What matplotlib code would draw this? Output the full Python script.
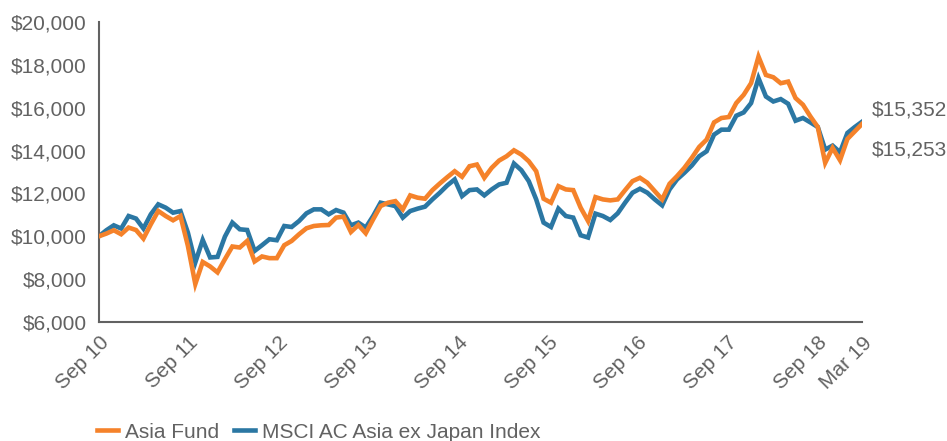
import matplotlib
matplotlib.use("Agg")
import matplotlib.pyplot as plt
import numpy as np
from matplotlib.ticker import FuncFormatter

# ---- data ----
asia_fund = [10000, 10125, 10280, 10093, 10405, 10290, 9890, 10560, 11180, 10945, 10745, 10945, 9550,
             7770, 8800, 8590, 8312, 8930, 9521, 9475, 9781, 8824, 9056, 8977, 8977, 9581, 9781, 10093,
             10372, 10479, 10512, 10525, 10870, 10916, 10200, 10525, 10140, 10790, 11409,
             11567, 11641, 11256, 11907, 11800, 11753, 12153, 12465, 12757, 13036, 12776, 13269, 13348,
             12730, 13195, 13534, 13734, 14013, 13813, 13501, 13036, 11753, 11567, 12339, 12186, 12153,
             11335, 10711, 11827, 11720, 11674, 11720, 12153, 12572, 12730, 12497, 12107, 11720, 12450,
             12804, 13195, 13660, 14171, 14511, 15315, 15520, 15566, 16217, 16603, 17147, 18384, 17530,
             17423, 17144, 17219, 16450, 16140, 15594, 15100, 13427, 14125, 13548, 14543, 14897, 15253]
msci = [10000, 10280, 10510, 10360, 10945, 10825, 10360, 11025, 11490, 11335, 11100, 11175, 10170,
        8777, 9828, 9010, 9037, 9986, 10637, 10325, 10293, 9316, 9581, 9860, 9814, 10479, 10432, 10711,
        11070, 11255, 11255, 11023, 11223, 11102, 10511, 10637, 10405, 10944, 11567,
        11488, 11409, 10870, 11176, 11288, 11381, 11721, 12032, 12372, 12651, 11874, 12153, 12186,
        11907, 12186, 12418, 12497, 13395, 13083, 12572, 11721, 10637, 10432, 11288, 10944, 10870,
        10047, 9940, 11056, 10944, 10758, 11070, 11567, 12032, 12218, 12032, 11721, 11442, 12186,
        12651, 12962, 13302, 13734, 13967, 14743, 14976, 14976, 15627, 15780, 16217, 17380, 16524,
        16291, 16403, 16185, 15394, 15520, 15315, 15100, 14046, 14232, 13920, 14822, 15100, 15352]
tick_labels = ["Sep 10", "Sep 11", "Sep 12", "Sep 13", "Sep 14", "Sep 15", "Sep 16", "Sep 17", "Sep 18", "Mar 19"]
tick_months = [0, 12, 24, 36, 48, 60, 72, 84, 96, 102]
series_names = ["Asia Fund", "MSCI AC Asia ex Japan Index"]
end_labels = ["$15,253", "$15,352"]

ORANGE = "#F5822A"
BLUE = "#2B77A3"
GREY = "#626262"
FS = 15

plt.rcParams['font.family'] = ['Liberation Sans', 'DejaVu Sans']

fig = plt.figure(figsize=(9.47, 4.41), dpi=100)
ax = fig.add_axes([0.1045, 0.27, 0.806, 0.68])

months = np.linspace(0, 102, len(asia_fund))
ax.plot(months, msci, color=BLUE, lw=3.3, solid_joinstyle='miter', label=series_names[1], zorder=2)
ax.plot(months, asia_fund, color=ORANGE, lw=3.3, solid_joinstyle='miter', label=series_names[0], zorder=3)

ax.set_xlim(0, 102)
ax.set_ylim(6000, 20000)
ax.set_yticks(np.arange(6000, 20001, 2000))
ax.yaxis.set_major_formatter(FuncFormatter(lambda v, p: f"${v:,.0f}"))
ax.set_xticks(tick_months)
ax.set_xticklabels(tick_labels, rotation=45, ha='right', rotation_mode='anchor')

for s in ['top', 'right']:
    ax.spines[s].set_visible(False)
for s in ['left', 'bottom']:
    ax.spines[s].set_color(GREY)
    ax.spines[s].set_linewidth(1.5)
ax.tick_params(axis='both', length=0, colors=GREY, labelsize=FS)
ax.tick_params(axis='x', pad=8)
ax.tick_params(axis='y', pad=9)

ax.annotate(end_labels[1], xy=(months[-1], msci[-1]), xytext=(10, 12), textcoords='offset pixels',
            color=GREY, fontsize=FS, va='center', ha='left', annotation_clip=False)
ax.annotate(end_labels[0], xy=(months[-1], asia_fund[-1]), xytext=(10, -26), textcoords='offset pixels',
            color=GREY, fontsize=FS, va='center', ha='left', annotation_clip=False)

handles, labels = ax.get_legend_handles_labels()
leg = fig.legend(handles[::-1], labels[::-1], loc='center left', bbox_to_anchor=(0.083, 0.02),
                 ncol=2, frameon=False, fontsize=FS, handlelength=1.0, handletextpad=0.35,
                 columnspacing=0.7)
for t in leg.get_texts():
    t.set_color(GREY)

fig.savefig("out.png", dpi=100)
